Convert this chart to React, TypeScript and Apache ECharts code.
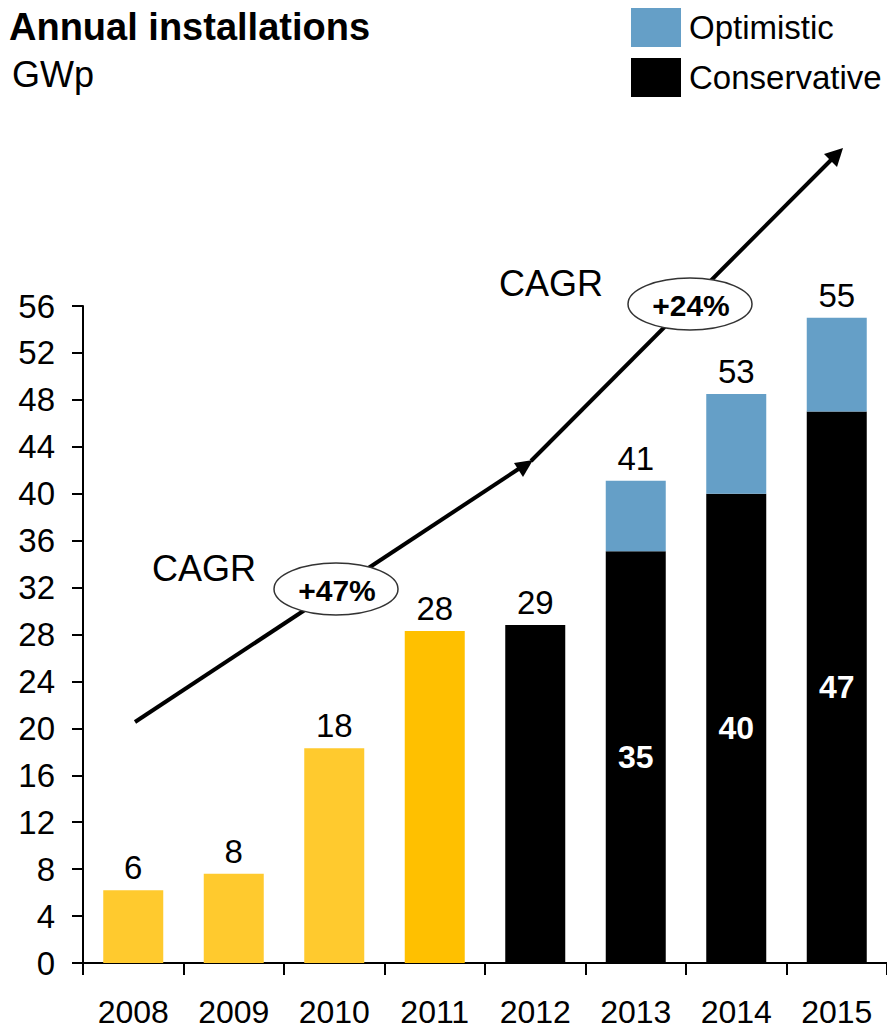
import React, { useEffect, useRef } from "react";
import * as echarts from "echarts";

const years = ["2008", "2009", "2010", "2011", "2012", "2013", "2014", "2015"];
// historical installations (actuals)
const historical = [6.2, 7.6, 18.3, 28.3, "-", "-", "-", "-"];
// conservative forecast
const conservative = ["-", "-", "-", "-", 28.8, 35.1, 40.0, 47.0];
// optimistic increment on top of conservative
const optimisticExtra = ["-", "-", "-", "-", "-", 6.0, 8.5, 8.0];
// labels printed above each column
const totalLabels = ["6", "8", "18", "28", "29", "41", "53", "55"];
// labels printed inside the conservative segment
const conservativeLabels = ["", "", "", "", "", "35", "40", "47"];
const yTicks = { min: 0, max: 56, interval: 4 };
const cagrLabels = ["+47%", "+24%"];

const FONT = "'Liberation Sans', Arial, Helvetica, sans-serif";
const YELLOW = "#FFCA2E";
const YELLOW_DARK = "#FFC000";
const BLUE = "#659FC7";
const BLACK = "#000000";

export default function App() {
  const ref = useRef<HTMLDivElement>(null);

  useEffect(() => {
    if (!ref.current) return;
    const chart = echarts.init(ref.current, null, { renderer: "svg" });

    const topLabel = (i: number) => ({
      show: true,
      position: "top",
      distance: 6,
      formatter: totalLabels[i],
      color: "#000",
      fontSize: 33,
      fontFamily: FONT,
    });

    const histData = historical.map((v, i) =>
      v === "-"
        ? "-"
        : {
            value: v,
            itemStyle: { color: i === 3 ? YELLOW_DARK : YELLOW },
            label: topLabel(i),
          }
    );

    const consData = conservative.map((v, i) => {
      if (v === "-") return "-";
      if (optimisticExtra[i] === "-") {
        return { value: v, label: topLabel(i) };
      }
      return {
        value: v,
        label: {
          show: true,
          position: "inside",
          formatter: conservativeLabels[i],
          color: "#fff",
          fontWeight: "bold",
          fontSize: 32,
          fontFamily: FONT,
        },
      };
    });

    const optData = optimisticExtra.map((v, i) =>
      v === "-" ? "-" : { value: v, label: topLabel(i) }
    );

    const lineStyle = { stroke: "#000", lineWidth: 4 };

    const option: any = {
      animation: false,
      textStyle: { fontFamily: FONT },
      title: [
        {
          text: "Annual installations",
          left: 9,
          top: 8,
          padding: 0,
          textStyle: { fontSize: 38, fontWeight: "bold", color: "#000", fontFamily: FONT },
        },
        {
          text: "GWp",
          left: 12,
          top: 56,
          padding: 0,
          textStyle: { fontSize: 36, fontWeight: "normal", color: "#000", fontFamily: FONT },
        },
      ],
      legend: {
        data: ["Optimistic", "Conservative"],
        orient: "vertical",
        left: 631,
        top: 8,
        padding: 0,
        itemWidth: 50,
        itemHeight: 39,
        itemGap: 11,
        icon: "rect",
        textStyle: { fontSize: 33, color: "#000", fontFamily: FONT, padding: [0, 0, 0, 3] },
      },
      grid: { left: 83, right: -4, top: 306, bottom: 70, containLabel: false },
      xAxis: {
        type: "category",
        data: years,
        axisLine: { lineStyle: { color: "#000", width: 2 } },
        axisTick: { show: true, length: 12, lineStyle: { color: "#000", width: 2 } },
        axisLabel: {
          fontSize: 32,
          lineHeight: 26,
          color: "#000",
          margin: 36,
          fontFamily: FONT,
        },
      },
      yAxis: {
        type: "value",
        min: yTicks.min,
        max: yTicks.max,
        interval: yTicks.interval,
        axisLine: { show: true, lineStyle: { color: "#000", width: 2 } },
        axisTick: { show: true, length: 11, lineStyle: { color: "#000", width: 2 } },
        axisLabel: { fontSize: 33, color: "#000", margin: 28, fontFamily: FONT },
        splitLine: { show: false },
      },
      series: [
        {
          name: "Historical",
          type: "bar",
          stack: "total",
          barWidth: 60,
          data: histData,
          itemStyle: { color: YELLOW },
        },
        {
          name: "Conservative",
          type: "bar",
          stack: "total",
          barWidth: 60,
          data: consData,
          itemStyle: { color: BLACK },
        },
        {
          name: "Optimistic",
          type: "bar",
          stack: "total",
          barWidth: 60,
          data: optData,
          itemStyle: { color: BLUE },
        },
      ],
      graphic: [
        // arrow 1
        { type: "line", z: 10, shape: { x1: 135, y1: 722, x2: 520, y2: 468 }, style: lineStyle },
        {
          type: "polygon",
          z: 10,
          shape: { points: [[533, 460], [523, 477], [514, 463]] },
          style: { fill: "#000" },
        },
        // arrow 2
        { type: "line", z: 10, shape: { x1: 531, y1: 461, x2: 831, y2: 160 }, style: lineStyle },
        {
          type: "polygon",
          z: 10,
          shape: { points: [[843, 148], [837, 167], [824, 154]] },
          style: { fill: "#000" },
        },
        // ellipses
        {
          type: "ellipse",
          z: 11,
          shape: { cx: 336, cy: 589, rx: 62, ry: 26 },
          style: { fill: "#fff", stroke: "#333", lineWidth: 1.5 },
        },
        {
          type: "ellipse",
          z: 11,
          shape: { cx: 690, cy: 304, rx: 62, ry: 26 },
          style: { fill: "#fff", stroke: "#333", lineWidth: 1.5 },
        },
        {
          type: "text",
          z: 12,
          x: 337,
          y: 590,
          style: {
            text: cagrLabels[0],
            font: `bold 30px ${FONT}`,
            fill: "#000",
            textAlign: "center",
            textVerticalAlign: "middle",
          },
        },
        {
          type: "text",
          z: 12,
          x: 691,
          y: 305,
          style: {
            text: cagrLabels[1],
            font: `bold 30px ${FONT}`,
            fill: "#000",
            textAlign: "center",
            textVerticalAlign: "middle",
          },
        },
        {
          type: "text",
          z: 12,
          x: 152,
          y: 568,
          style: {
            text: "CAGR",
            font: `36px ${FONT}`,
            fill: "#000",
            textAlign: "left",
            textVerticalAlign: "middle",
          },
        },
        {
          type: "text",
          z: 12,
          x: 499,
          y: 283,
          style: {
            text: "CAGR",
            font: `36px ${FONT}`,
            fill: "#000",
            textAlign: "left",
            textVerticalAlign: "middle",
          },
        },
      ],
    };

    chart.setOption(option);
    return () => chart.dispose();
  }, []);

  return (
    <div
      ref={ref}
      style={{ position: "absolute", left: 0, top: 0, width: 887, height: 1033, background: "#fff" }}
    />
  );
}
